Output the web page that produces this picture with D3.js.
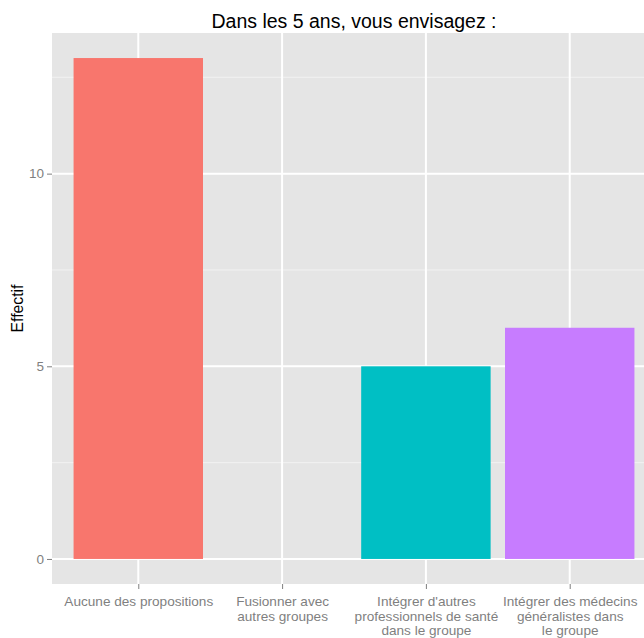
<!DOCTYPE html>
<html>
<head>
<meta charset="utf-8">
<script src="https://cdn.jsdelivr.net/npm/d3@7"></script>
<style>
  html, body { margin: 0; padding: 0; background: #fff; }
  svg { display: block; font-family: Arial, "Liberation Sans", sans-serif; }
</style>
</head>
<body>
<svg id="chart" width="644" height="638"></svg>
<script>
// Answers to "Dans les 5 ans, vous envisagez :"
const categories = [
  "Aucune des propositions",
  "Fusionner avec autres groupes",
  "Intégrer d'autres professionnels de santé dans le groupe",
  "Intégrer des médecins généralistes dans le groupe"
];
// Axis labels wrapped onto several lines
const categoryLines = [
  ["Aucune des propositions"],
  ["Fusionner avec", "autres groupes"],
  ["Intégrer d'autres", "professionnels de santé", "dans le groupe"],
  ["Intégrer des médecins", "généralistes dans", "le groupe"]
];
const counts = [13, 0, 5, 6];
const colors = ["#F8766D", "#7CAE00", "#00BFC4", "#C77CFF"];
const yTicks = [0, 5, 10];
const yMinor = [2.5, 7.5, 12.5];

const svg = d3.select("#chart");
const panel = { left: 52, top: 33, right: 656, bottom: 584 };

// Discrete x scale with 0.6 unit padding on each side
const n = categories.length;
const x = d3.scaleLinear()
  .domain([0.4, n + 0.6])
  .range([panel.left, panel.right]);
const barWidth = 0.9 * (x(2) - x(1));

// Continuous y scale, 5% expansion on both ends
const yMax = d3.max(counts);
const y = d3.scaleLinear()
  .domain([-0.05 * yMax, yMax * 1.05])
  .range([panel.bottom, panel.top]);

// Panel background
svg.append("rect")
  .attr("x", panel.left).attr("y", panel.top)
  .attr("width", panel.right - panel.left)
  .attr("height", panel.bottom - panel.top)
  .attr("fill", "#E5E5E5");

const grid = svg.append("g");
grid.selectAll("line.minor").data(yMinor).join("line")
  .attr("class", "minor")
  .attr("x1", panel.left).attr("x2", panel.right)
  .attr("y1", d => y(d)).attr("y2", d => y(d))
  .attr("stroke", "#F2F2F2").attr("stroke-width", 1);
grid.selectAll("line.major").data(yTicks).join("line")
  .attr("class", "major")
  .attr("x1", panel.left).attr("x2", panel.right)
  .attr("y1", d => y(d)).attr("y2", d => y(d))
  .attr("stroke", "#FFFFFF").attr("stroke-width", 2);
grid.selectAll("line.vmajor").data(d3.range(1, n + 1)).join("line")
  .attr("class", "vmajor")
  .attr("x1", d => x(d)).attr("x2", d => x(d))
  .attr("y1", panel.top).attr("y2", panel.bottom)
  .attr("stroke", "#FFFFFF").attr("stroke-width", 2);

// Bars
svg.append("g").selectAll("rect").data(counts).join("rect")
  .attr("x", (d, i) => x(i + 1) - barWidth / 2)
  .attr("width", barWidth)
  .attr("y", d => y(d))
  .attr("height", d => y(0) - y(d))
  .attr("fill", (d, i) => colors[i]);

// Y axis
const yAxis = svg.append("g")
  .attr("transform", `translate(${panel.left},0)`)
  .call(d3.axisLeft(y).tickValues(yTicks).tickSize(5).tickPadding(3).tickFormat(d3.format("d")));
yAxis.select(".domain").remove();
yAxis.selectAll(".tick line").attr("stroke", "#7F7F7F").attr("stroke-width", 1);
yAxis.selectAll(".tick text")
  .attr("fill", "#7F7F7F").attr("font-size", 13.5)
  .attr("font-family", "Arial, 'Liberation Sans', sans-serif");

// X axis
const xAxis = svg.append("g")
  .attr("transform", `translate(0,${panel.bottom})`)
  .call(d3.axisBottom(x).tickValues(d3.range(1, n + 1)).tickSize(5).tickFormat(() => ""));
xAxis.select(".domain").remove();
xAxis.selectAll(".tick line").attr("stroke", "#7F7F7F").attr("stroke-width", 1);
xAxis.selectAll(".tick text").remove();
xAxis.selectAll(".tick").each(function (d) {
  const lines = categoryLines[d - 1];
  const t = d3.select(this).append("text")
    .attr("fill", "#7F7F7F")
    .attr("font-size", 13.6)
    .attr("text-anchor", "middle")
    .attr("font-family", "Arial, 'Liberation Sans', sans-serif");
  lines.forEach((s, k) => {
    t.append("tspan").attr("x", 0).attr("y", 22 + k * 14.6).text(s);
  });
});

// Axis title
svg.append("text")
  .attr("transform", `translate(23,${(panel.top + panel.bottom) / 2}) rotate(-90)`)
  .attr("text-anchor", "middle")
  .attr("font-size", 15.8)
  .attr("fill", "#000")
  .text("Effectif");

// Plot title
svg.append("text")
  .attr("x", (panel.left + panel.right) / 2)
  .attr("y", 28)
  .attr("text-anchor", "middle")
  .attr("font-size", 19.5)
  .attr("fill", "#000")
  .text("Dans les 5 ans, vous envisagez :");
</script>
</body>
</html>
